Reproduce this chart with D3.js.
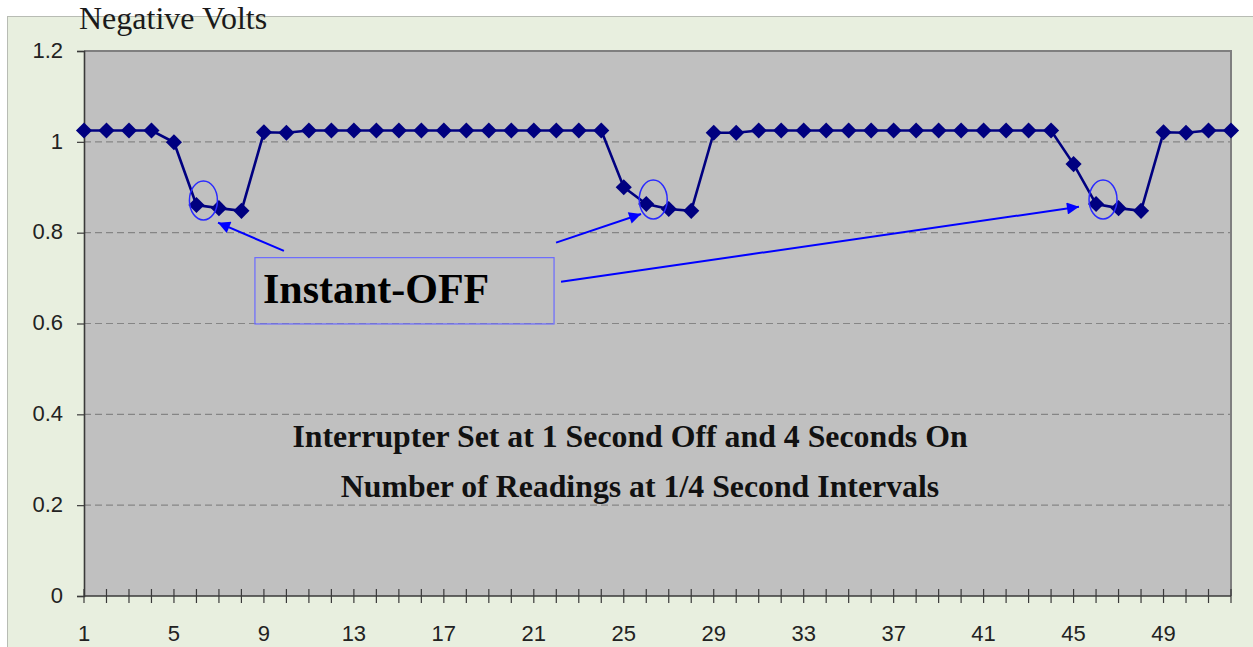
<!DOCTYPE html>
<html>
<head>
<meta charset="utf-8">
<script src="https://cdn.jsdelivr.net/npm/d3@7"></script>
<style>
  html, body { margin: 0; padding: 0; background: #ffffff; }
  svg { display: block; }
</style>
</head>
<body>
<svg id="chart" width="1253" height="647"></svg>
<script>
// ---------- DATA ----------
const readings = d3.range(1, 53); // reading number 1..52
const volts = [
  1.025, 1.025, 1.025, 1.025, 0.999, 0.861, 0.854, 0.848, 1.021, 1.020,
  1.025, 1.025, 1.025, 1.025, 1.025, 1.025, 1.025, 1.025, 1.025, 1.025,
  1.025, 1.025, 1.025, 1.025, 0.900, 0.863, 0.852, 0.848, 1.020, 1.020,
  1.025, 1.025, 1.025, 1.025, 1.025, 1.025, 1.025, 1.025, 1.025, 1.025,
  1.025, 1.025, 1.025, 1.025, 0.951, 0.863, 0.854, 0.848, 1.021, 1.020,
  1.025, 1.025
];
const yTicks = [0, 0.2, 0.4, 0.6, 0.8, 1, 1.2];
const xTickLabels = [1, 5, 9, 13, 17, 21, 25, 29, 33, 37, 41, 45, 49];
const yAxisTitle = "Negative Volts";
const noteLines = [
  "Interrupter Set at 1 Second Off and 4 Seconds On",
  "Number of Readings at 1/4 Second Intervals"
];
const calloutText = "Instant-OFF";
const instantOffReadings = [6, 26, 46];
// arrows: [tail reading, tail volts, tip reading, tip volts]
const arrows = [
  [9.89, 0.760, 6.96, 0.822],
  [21.99, 0.778, 25.77, 0.841],
  [22.21, 0.692, 45.24, 0.857]
];
// callout box in data units: [x0, y top, x1, y bottom]
const calloutBox = [8.60, 0.745, 21.90, 0.599];

// ---------- LAYOUT ----------
const W = 1253, H = 647;
const plot = { left: 84, right: 1231, top: 51, bottom: 596 };

const svg = d3.select("#chart");

// outer chart area
svg.append("rect")
  .attr("x", 7.5).attr("y", 16.5)
  .attr("width", W).attr("height", H)
  .attr("fill", "#e8efdf")
  .attr("stroke", "#b8bcb4").attr("stroke-width", 1);

const x = d3.scaleLinear().domain([1, 52]).range([plot.left, plot.right]);
const y = d3.scaleLinear().domain([0, 1.2]).range([plot.bottom, plot.top]);

// plot area
svg.append("rect")
  .attr("x", plot.left).attr("y", plot.top)
  .attr("width", plot.right - plot.left).attr("height", plot.bottom - plot.top)
  .attr("fill", "#c0c0c0");

// gridlines
svg.append("g").selectAll("line")
  .data(yTicks.filter(t => t > 0 && t < 1.2))
  .join("line")
  .attr("x1", plot.left).attr("x2", plot.right)
  .attr("y1", d => y(d)).attr("y2", d => y(d))
  .attr("stroke", "#858585").attr("stroke-width", 1.2)
  .attr("stroke-dasharray", "7,4");

// top & right border of plot
svg.append("path")
  .attr("d", `M${plot.left},${plot.top}H${plot.right}V${plot.bottom}`)
  .attr("fill", "none").attr("stroke", "#7f7f7f").attr("stroke-width", 2);

// y axis
const yAxis = d3.axisLeft(y).tickValues(yTicks).tickSize(7).tickPadding(14)
  .tickFormat(d3.format("~g"));
const gy = svg.append("g").attr("transform", `translate(${plot.left},0)`).call(yAxis);
gy.select(".domain").attr("stroke", "#3a3a3a").attr("stroke-width", 1.6);
gy.selectAll(".tick line").attr("stroke", "#3a3a3a").attr("stroke-width", 1.2);
gy.selectAll(".tick text")
  .attr("font-family", "'Liberation Sans', Arial, sans-serif")
  .attr("font-size", 22).attr("fill", "#222").attr("dy", "0.28em");

// x axis (crossing tick marks, one per reading)
const gx = svg.append("g");
gx.append("line")
  .attr("x1", plot.left).attr("x2", plot.right)
  .attr("y1", plot.bottom).attr("y2", plot.bottom)
  .attr("stroke", "#3a3a3a").attr("stroke-width", 1.6);
gx.selectAll("line.tk").data(readings).join("line").attr("class", "tk")
  .attr("x1", d => x(d)).attr("x2", d => x(d))
  .attr("y1", plot.bottom - 7).attr("y2", plot.bottom + 7)
  .attr("stroke", "#3a3a3a").attr("stroke-width", 1.2);
gx.selectAll("text").data(xTickLabels).join("text")
  .attr("x", d => x(d)).attr("y", 641)
  .attr("text-anchor", "middle")
  .attr("font-family", "'Liberation Sans', Arial, sans-serif")
  .attr("font-size", 22).attr("fill", "#222")
  .text(d => d);

// y axis title
svg.append("text")
  .attr("x", 79).attr("y", 29)
  .attr("font-family", "'Liberation Serif', 'Times New Roman', serif")
  .attr("font-size", 32).attr("fill", "#1a1a1a")
  .text(yAxisTitle);

// series line
const pts = readings.map((r, i) => [r, volts[i]]);
svg.append("path")
  .datum(pts)
  .attr("d", d3.line().x(d => x(d[0])).y(d => y(d[1])))
  .attr("fill", "none").attr("stroke", "#000080").attr("stroke-width", 2.6);

// diamond markers
svg.append("g").selectAll("path")
  .data(pts).join("path")
  .attr("transform", d => `translate(${x(d[0])},${y(d[1])}) rotate(45)`)
  .attr("d", d3.symbol(d3.symbolSquare, 130))
  .attr("fill", "#000080");

// ellipses around instant-off readings
svg.append("g").selectAll("ellipse")
  .data(instantOffReadings).join("ellipse")
  .attr("cx", d => x(d + 0.31))
  .attr("cy", d => y(volts[d - 1] + 0.01))
  .attr("rx", 14).attr("ry", 19.5)
  .attr("fill", "none").attr("stroke", "#2a2aff").attr("stroke-width", 1.5);

// arrow marker
svg.append("defs").append("marker")
  .attr("id", "ah").attr("viewBox", "0 0 10 10")
  .attr("refX", 10).attr("refY", 5)
  .attr("markerWidth", 17).attr("markerHeight", 12)
  .attr("markerUnits", "userSpaceOnUse")
  .attr("orient", "auto")
  .append("path").attr("d", "M0,0L10,5L0,10Z").attr("fill", "#0000ff");

svg.append("g").selectAll("line")
  .data(arrows).join("line")
  .attr("x1", d => x(d[0])).attr("y1", d => y(d[1]))
  .attr("x2", d => x(d[2])).attr("y2", d => y(d[3]))
  .attr("stroke", "#0000ff").attr("stroke-width", 2)
  .attr("marker-end", "url(#ah)");

// callout box
svg.append("rect")
  .attr("x", x(calloutBox[0])).attr("y", y(calloutBox[1]))
  .attr("width", x(calloutBox[2]) - x(calloutBox[0]))
  .attr("height", y(calloutBox[3]) - y(calloutBox[1]))
  .attr("fill", "none").attr("stroke", "#6a6aff").attr("stroke-width", 1.2);

svg.append("text")
  .attr("x", x(calloutBox[0]) + 8).attr("y", y(calloutBox[1]) + 45)
  .attr("font-family", "'Liberation Serif', 'Times New Roman', serif")
  .attr("font-weight", "bold").attr("font-size", 42).attr("fill", "#000")
  .text(calloutText);

// notes
svg.append("g").selectAll("text")
  .data(noteLines).join("text")
  .attr("x", (d, i) => i === 0 ? 630 : 640)
  .attr("y", (d, i) => 447 + i * 50)
  .attr("text-anchor", "middle")
  .attr("font-family", "'Liberation Serif', 'Times New Roman', serif")
  .attr("font-weight", "bold").attr("font-size", 31.8).attr("fill", "#111")
  .text(d => d);
</script>
</body>
</html>
